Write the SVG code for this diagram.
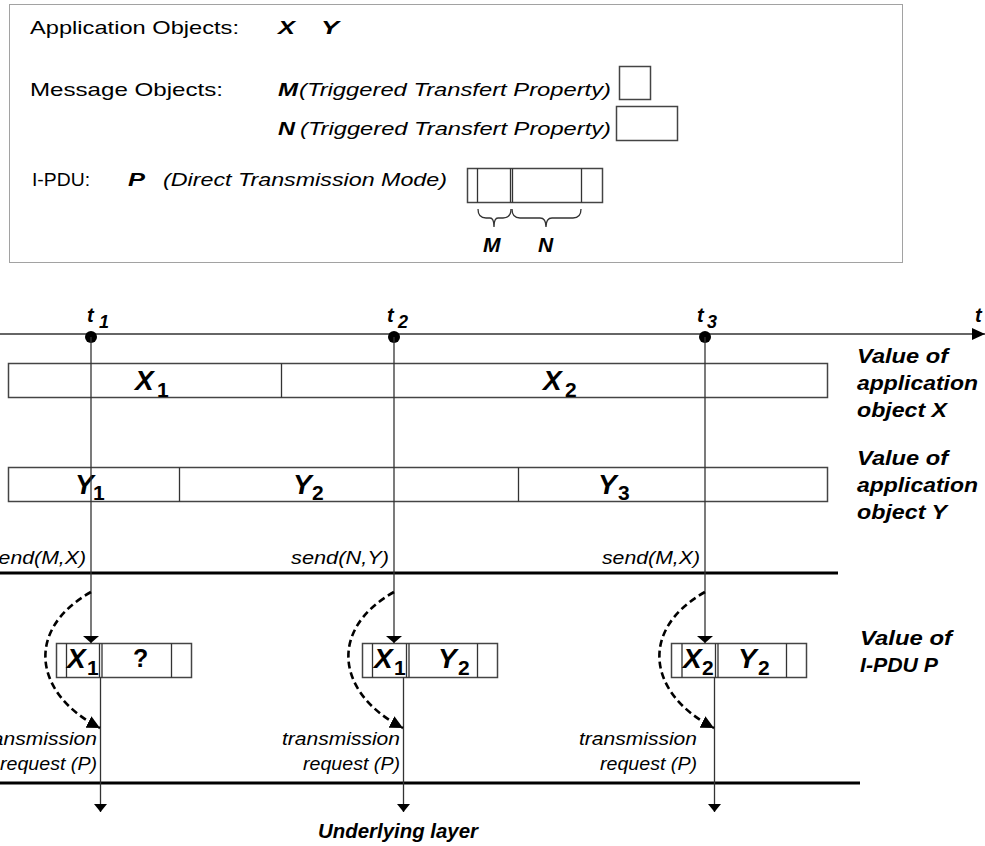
<svg xmlns="http://www.w3.org/2000/svg" width="985" height="846" viewBox="0 0 985 846">
<style>
text{font-family:"Liberation Sans",Arial,sans-serif;fill:#000}
.lg{font-size:19px}
.bi{font-weight:bold;font-style:italic}
.it{font-style:italic}
.bd{font-weight:bold}
.thin{stroke:#333;stroke-width:1.3;fill:none}
.box{stroke:#444;stroke-width:1.5;fill:#fff}
.thick{stroke:#000;stroke-width:3}
.dash{stroke:#000;stroke-width:2.6;fill:none;stroke-dasharray:7,4}
</style>
<defs>
<marker id="ahFlat" viewBox="0 0 7 16" refX="7" refY="8" markerWidth="7" markerHeight="16" markerUnits="userSpaceOnUse" orient="auto"><path d="M0,0 L7,8 L0,16 z" fill="#000"/></marker>
<marker id="ahDown" viewBox="0 0 8 13" refX="8" refY="6.5" markerWidth="8" markerHeight="13" markerUnits="userSpaceOnUse" orient="auto"><path d="M0,0 L8,6.5 L0,13 z" fill="#000"/></marker>
<marker id="ahT" viewBox="0 0 13 12" refX="13" refY="6" markerWidth="13" markerHeight="12" markerUnits="userSpaceOnUse" orient="auto"><path d="M0,0 L13,6 L0,12 z" fill="#000"/></marker>
<marker id="ahDash" viewBox="0 0 13 13" refX="13" refY="6.5" markerWidth="13" markerHeight="13" markerUnits="userSpaceOnUse" orient="auto"><path d="M0,0 L13,6.5 L0,13 z" fill="#000"/></marker>
</defs>

<g id="legend">
<rect x="9.5" y="4.5" width="893" height="258" fill="none" stroke="#444" stroke-width="1" stroke-dasharray="1,1"/>
<text class="lg" x="30" y="34" textLength="209" lengthAdjust="spacingAndGlyphs">Application Objects:</text>
<text class="lg bi" x="278" y="34" textLength="17" lengthAdjust="spacingAndGlyphs">X</text>
<text class="lg bi" x="321" y="34" textLength="18" lengthAdjust="spacingAndGlyphs">Y</text>
<text class="lg" x="30" y="96" textLength="193" lengthAdjust="spacingAndGlyphs">Message Objects:</text>
<text class="lg bi" x="278" y="96" textLength="20" lengthAdjust="spacingAndGlyphs">M</text>
<text class="lg it" x="299" y="96" textLength="312" lengthAdjust="spacingAndGlyphs">(Triggered Transfert Property)</text>
<rect x="619.5" y="66.5" width="31" height="33" class="box"/>
<text class="lg bi" x="278" y="135" textLength="17" lengthAdjust="spacingAndGlyphs">N</text>
<text class="lg it" x="300" y="135" textLength="311" lengthAdjust="spacingAndGlyphs">(Triggered Transfert Property)</text>
<rect x="616.5" y="106.5" width="61" height="34" class="box"/>
<text class="lg" x="32" y="186" textLength="58" lengthAdjust="spacingAndGlyphs">I-PDU:</text>
<text class="lg bi" x="128" y="186" textLength="17" lengthAdjust="spacingAndGlyphs">P</text>
<text class="lg it" x="163" y="186" textLength="284" lengthAdjust="spacingAndGlyphs">(Direct Transmission Mode)</text>
<rect x="467.5" y="168.5" width="135" height="34" class="box"/>
<path d="M477.5 168.5 V202.5 M510.5 168.5 V202.5 M512.5 168.5 V202.5 M581.5 168.5 V202.5" class="thin"/>
<path d="M478 209 Q478 218 486 218 L490 218 Q494 218 494 227 Q494 218 498 218 L503 218 Q511 218 511 209" class="thin"/>
<path d="M512 209 Q512 218 520 218 L540 218 Q546 218 546 227 Q546 218 552 218 L573 218 Q581 218 581 209" class="thin"/>
<text class="bi" font-size="21" x="483" y="252">M</text>
<text class="bi" font-size="21" x="538" y="252">N</text>
</g>

<g id="timeline">
<line x1="0" y1="334" x2="985" y2="334" class="thin" marker-end="url(#ahT)"/>
<circle cx="91" cy="337" r="6" fill="#000"/>
<circle cx="394" cy="337" r="6" fill="#000"/>
<circle cx="705" cy="337" r="6" fill="#000"/>
<text class="bi" font-size="20" x="87" y="322">t</text><text class="bi" font-size="18" x="99" y="328">1</text>
<text class="bi" font-size="20" x="387" y="322">t</text><text class="bi" font-size="18" x="398" y="328">2</text>
<text class="bi" font-size="20" x="697" y="322">t</text><text class="bi" font-size="18" x="707" y="328">3</text>
<text class="bi" font-size="20" x="975" y="322">t</text>
</g>

<g id="barX">
<rect x="8.5" y="363.5" width="819" height="34" class="box"/>
<line x1="281.5" y1="363.5" x2="281.5" y2="397.5" class="thin"/>
<text class="bi" font-size="28" x="135" y="390">X</text><text class="bd" font-size="21" x="157" y="397">1</text>
<text class="bi" font-size="28" x="543" y="390">X</text><text class="bd" font-size="21" x="565" y="397">2</text>
</g>
<g id="labelX">
<text class="bi" font-size="21" x="857" y="363" textLength="91" lengthAdjust="spacingAndGlyphs">Value of</text>
<text class="bi" font-size="21" x="857" y="390" textLength="121" lengthAdjust="spacingAndGlyphs">application</text>
<text class="bi" font-size="21" x="857" y="417" textLength="90" lengthAdjust="spacingAndGlyphs">object X</text>
</g>

<g id="barY">
<rect x="8.5" y="467.5" width="819" height="34" class="box"/>
<line x1="179.5" y1="467.5" x2="179.5" y2="501.5" class="thin"/>
<line x1="518.5" y1="467.5" x2="518.5" y2="501.5" class="thin"/>
<text class="bi" font-size="28" x="75" y="494">Y</text><text class="bd" font-size="21" x="93" y="500">1</text>
<text class="bi" font-size="28" x="293" y="494">Y</text><text class="bd" font-size="21" x="312" y="500">2</text>
<text class="bi" font-size="28" x="598" y="494">Y</text><text class="bd" font-size="21" x="618" y="500">3</text>
</g>
<g id="labelY">
<text class="bi" font-size="21" x="857" y="465" textLength="91" lengthAdjust="spacingAndGlyphs">Value of</text>
<text class="bi" font-size="21" x="857" y="492" textLength="121" lengthAdjust="spacingAndGlyphs">application</text>
<text class="bi" font-size="21" x="857" y="519" textLength="90" lengthAdjust="spacingAndGlyphs">object Y</text>
</g>

<g id="sends">
<text class="it" font-size="18" x="86" y="564" text-anchor="end" textLength="98" lengthAdjust="spacingAndGlyphs">send(M,X)</text>
<text class="it" font-size="18" x="389" y="564" text-anchor="end" textLength="98" lengthAdjust="spacingAndGlyphs">send(N,Y)</text>
<text class="it" font-size="18" x="700" y="564" text-anchor="end" textLength="98" lengthAdjust="spacingAndGlyphs">send(M,X)</text>
</g>

<g id="layers">
<line x1="0" y1="573" x2="838" y2="573" class="thick" stroke-width="2.5"/>
<line x1="0" y1="783" x2="860" y2="783" class="thick"/>
</g>

<g id="pdu1">
<rect x="56.5" y="643.5" width="135" height="34" class="box"/>
<path d="M66.5 643.5 V677.5 M99.5 643.5 V677.5 M102 643.5 V677.5 M171.5 643.5 V677.5" class="thin"/>
<text class="bi" font-size="28" x="67" y="668">X</text><text class="bd" font-size="21" x="87" y="675">1</text>
<text class="bd" font-size="25" x="133" y="667">?</text>
</g>
<g id="pdu2">
<rect x="362.5" y="643.5" width="135" height="34" class="box"/>
<path d="M372.5 643.5 V677.5 M406.5 643.5 V677.5 M409 643.5 V677.5 M477.5 643.5 V677.5" class="thin"/>
<text class="bi" font-size="28" x="374" y="668">X</text><text class="bd" font-size="21" x="394" y="675">1</text>
<text class="bi" font-size="28" x="438" y="668">Y</text><text class="bd" font-size="21" x="458" y="675">2</text>
</g>
<g id="pdu3">
<rect x="671.5" y="643.5" width="135" height="34" class="box"/>
<path d="M682 643.5 V677.5 M715.5 643.5 V677.5 M718 643.5 V677.5 M786.5 643.5 V677.5" class="thin"/>
<text class="bi" font-size="28" x="683" y="668">X</text><text class="bd" font-size="21" x="702" y="675">2</text>
<text class="bi" font-size="28" x="738" y="668">Y</text><text class="bd" font-size="21" x="758" y="675">2</text>
</g>
<g id="labelP">
<text class="bi" font-size="21" x="860" y="645" textLength="92" lengthAdjust="spacingAndGlyphs">Value of</text>
<text class="bi" font-size="21" x="860" y="672" textLength="78" lengthAdjust="spacingAndGlyphs">I-PDU P</text>
</g>

<g id="connectors">
<line x1="91" y1="337" x2="91" y2="643" class="thin" marker-end="url(#ahFlat)"/>
<line x1="394" y1="337" x2="394" y2="643" class="thin" marker-end="url(#ahFlat)"/>
<line x1="705" y1="337" x2="705" y2="643" class="thin" marker-end="url(#ahFlat)"/>
<line x1="100.5" y1="677" x2="100.5" y2="812" class="thin" marker-end="url(#ahDown)"/>
<line x1="403.5" y1="677" x2="403.5" y2="812" class="thin" marker-end="url(#ahDown)"/>
<line x1="714.5" y1="677" x2="714.5" y2="812" class="thin" marker-end="url(#ahDown)"/>
<path d="M91 592 C24 630 34 694 100 728" class="dash" marker-end="url(#ahDash)"/>
<path d="M394 592 C327 630 337 694 403 728" class="dash" marker-end="url(#ahDash)"/>
<path d="M705 592 C638 630 648 694 714 728" class="dash" marker-end="url(#ahDash)"/>
</g>

<g id="requests">
<text class="it" font-size="18" x="97" y="745" text-anchor="end" textLength="118" lengthAdjust="spacingAndGlyphs">transmission</text>
<text class="it" font-size="18" x="97" y="770" text-anchor="end" textLength="97" lengthAdjust="spacingAndGlyphs">request (P)</text>
<text class="it" font-size="18" x="400" y="745" text-anchor="end" textLength="118" lengthAdjust="spacingAndGlyphs">transmission</text>
<text class="it" font-size="18" x="400" y="770" text-anchor="end" textLength="97" lengthAdjust="spacingAndGlyphs">request (P)</text>
<text class="it" font-size="18" x="697" y="745" text-anchor="end" textLength="118" lengthAdjust="spacingAndGlyphs">transmission</text>
<text class="it" font-size="18" x="697" y="770" text-anchor="end" textLength="97" lengthAdjust="spacingAndGlyphs">request (P)</text>
</g>

<g id="underlying">
<text class="bi" font-size="20" x="318" y="838" textLength="160" lengthAdjust="spacingAndGlyphs">Underlying layer</text>
</g>
</svg>
